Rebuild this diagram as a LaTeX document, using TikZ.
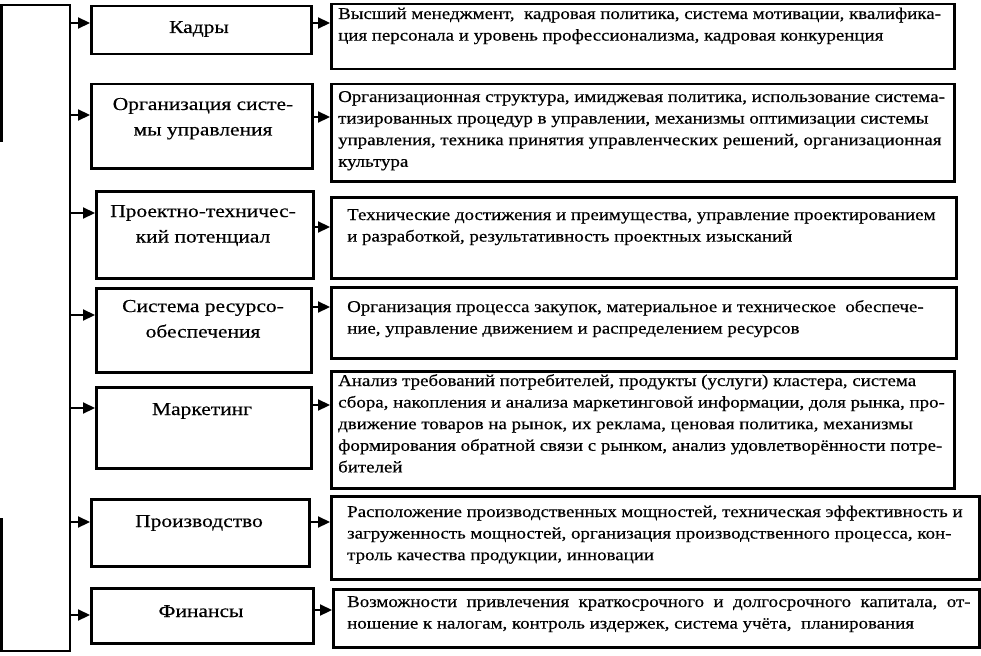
\documentclass[tikz,border=0pt]{standalone}
\usepackage{fontspec}
\setmainfont[FakeStretch=1.11]{Liberation Serif}
\newfontfamily\dscfont[FakeStretch=1.145,FakeBold=0.4]{Liberation Serif}
\newfontfamily\lblfont[FakeStretch=1.18,FakeBold=0.4]{Liberation Serif}
\usetikzlibrary{arrows.meta}
\begin{document}
\begin{tikzpicture}[x=1pt,y=-1pt,
 box/.style={draw,line width=2.5pt,inner sep=0pt,anchor=north west},
 arr/.style={line width=2.2pt,-{Triangle[length=12pt,width=11pt]}},
 frame/.style={line width=2.7pt},
 lbl/.style={inner sep=0pt,anchor=base,align=center,font=\lblfont\fontsize{18.2}{25.5}\selectfont},
 dsc/.style={inner sep=0pt,anchor=base west,align=left,font=\dscfont\fontsize{16.5}{21.6}\selectfont}]
\useasboundingbox (0,0) rectangle (981,655);
% left frame with bus
\coordinate (fl1) at (1.5,142);
\coordinate (ftl) at (1.5,5);
\coordinate (ftop) at (70,5);
\coordinate (fbot) at (70,651);
\coordinate (fbl) at (1.5,651);
\coordinate (fl2) at (1.5,518);
\draw[frame] (fl1) -- (ftl) -- (ftop) -- (fbot) -- (fbl) -- (fl2);
% left boxes
\node[box,minimum width=220pt,minimum height=48pt] (b1) at (90,5) {};
\node[box,minimum width=221pt,minimum height=84pt] (b2) at (90,83) {};
\node[box,minimum width=217pt,minimum height=87pt] (b3) at (95,190) {};
\node[box,minimum width=215pt,minimum height=84pt] (b4) at (95,287) {};
\node[box,minimum width=215pt,minimum height=81pt] (b5) at (95,386) {};
\node[box,minimum width=218pt,minimum height=67pt] (b6) at (90,498) {};
\node[box,minimum width=222pt,minimum height=55pt] (b7) at (90,587) {};
% (base anchor = baseline of the last line)
\node[lbl] (t1) at (199,33) {Кадры};
\node[lbl] (t2) at (203,135.5) {Организация систе-\\мы управления};
\node[lbl] (t3) at (203,242.5) {Проектно-техничес-\\кий потенциал};
\node[lbl] (t4) at (203,337.5) {Система ресурсо-\\обеспечения};
\node[lbl] (t5) at (202,415) {Маркетинг};
\node[lbl] (t6) at (199,527) {Производство};
\node[lbl] (t7) at (201,617) {Финансы};
% description boxes
\node[box,minimum width=623pt,minimum height=65pt] (d1) at (330,3) {};
\node[box,minimum width=623pt,minimum height=97pt] (d2) at (330,83) {};
\node[box,minimum width=625pt,minimum height=81pt] (d3) at (330,196) {};
\node[box,minimum width=625pt,minimum height=71pt] (d4) at (330,286) {};
\node[box,minimum width=623pt,minimum height=117pt] (d5) at (330,370) {};
\node[box,minimum width=648pt,minimum height=83pt] (d6) at (330,495) {};
\node[box,minimum width=646pt,minimum height=58pt] (d7) at (332,588) {};
\node[dsc] (s1) at (338,40.6) {Высший менеджмент,\ \ кадровая политика, система мотивации, квалифика-\\ция персонала и уровень профессионализма, кадровая конкуренция};
\node[dsc] (s2) at (338,166.8) {Организационная структура, имиджевая политика, использование системa-\\тизированных процедур в управлении, механизмы оптимизации системы\\управления, техника принятия управленческих решений, организационная\\культура};
\node[dsc] (s3) at (347,241.6) {Технические достижения и преимущества, управление проектированием\\и разработкой, результативность проектных изысканий};
\node[dsc] (s4) at (347,333.6) {Организация процесса закупок, материальное и техническое\ \ обеспече-\\ние, управление движением и распределением ресурсов};
\node[dsc] (s5) at (338,472.4) {Анализ требований потребителей, продукты (услуги) кластера, система\\сбора, накопления и анализа маркетинговой информации, доля рынка, про-\\движение товаров на рынок, их реклама, ценовая политика, механизмы\\формирования обратной связи с рынком, анализ удовлетворённости потре-\\бителей};
\node[dsc] (s6) at (347,560.2) {Расположение производственных мощностей, техническая эффективность и\\загруженность мощностей, организация производственного процесса, кон-\\троль качества продукции, инновации};
\node[dsc] (s7) at (347,628.6) {Возможности\ \ привлечения\ \ краткосрочного\ \ и\ \ долгосрочного\ \ капитала,\ \ от-\\ношение к налогам, контроль издержек, система учёта,\ \ планирования};
% bus coordinates
\coordinate (p1) at (70,23);
\coordinate (p2) at (70,115);
\coordinate (p3) at (70,213);
\coordinate (p4) at (70,315);
\coordinate (p5) at (70,408);
\coordinate (p6) at (70,522);
\coordinate (p7) at (70,615);
\draw[arr] (p1) -- (b1.west |- p1);
\draw[arr] (p2) -- (b2.west |- p2);
\draw[arr] (p3) -- (b3.west |- p3);
\draw[arr] (p4) -- (b4.west |- p4);
\draw[arr] (p5) -- (b5.west |- p5);
\draw[arr] (p6) -- (b6.west |- p6);
\draw[arr] (p7) -- (b7.west |- p7);
% box to description arrows
\draw[arr] (b1.east |- 0,23) -- (d1.west |- 0,23);
\draw[arr] (b2.east |- 0,117) -- (d2.west |- 0,117);
\draw[arr] (b3.east |- 0,227) -- (d3.west |- 0,227);
\draw[arr] (b4.east |- 0,307) -- (d4.west |- 0,307);
\draw[arr] (b5.east |- 0,405) -- (d5.west |- 0,405);
\draw[arr] (b6.east |- 0,522) -- (d6.west |- 0,522);
\draw[arr] (b7.east |- 0,610) -- (d7.west |- 0,610);
\end{tikzpicture}
\end{document}
